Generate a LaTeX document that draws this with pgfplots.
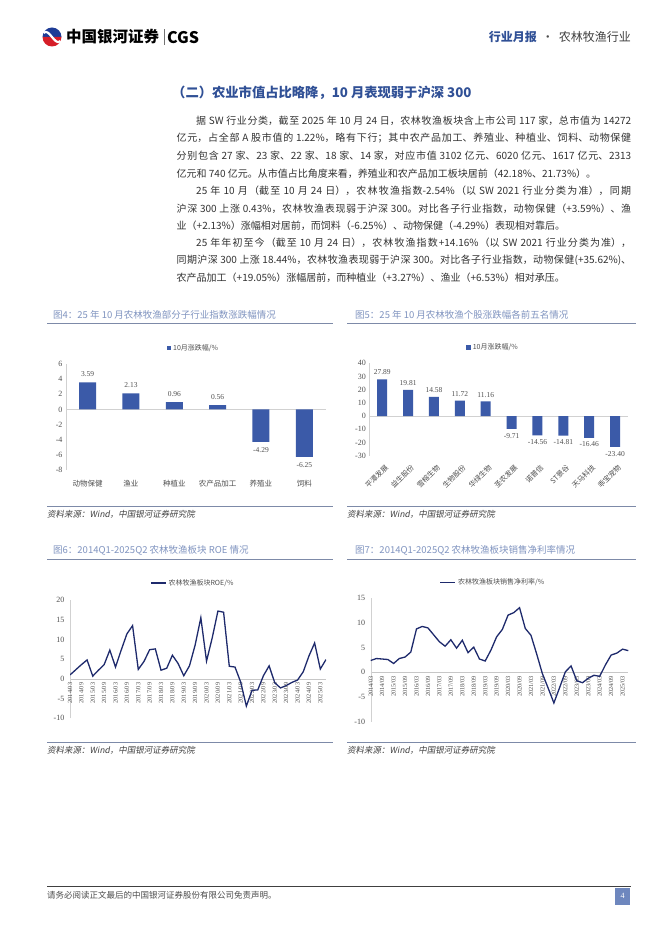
\documentclass[border=0pt]{standalone}
\usepackage{pgfplots}
\pgfplotsset{compat=1.18}
\usepackage{fontspec}
\setmainfont{Liberation Serif}
\newfontfamily\cjk{Noto Sans CJK SC}
\newfontfamily\cjkit{Noto Sans CJK SC}[FakeSlant=0.18]
\XeTeXlinebreaklocale "zh"
\XeTeXlinebreakskip=0pt plus 1.5pt
\definecolor{barblue}{RGB}{59,90,168}
\definecolor{navy}{RGB}{30,42,108}
\definecolor{titleblue}{RGB}{48,80,150}
\definecolor{figtitle}{RGB}{128,148,192}
\definecolor{rulegray}{RGB}{125,138,168}
\definecolor{txt}{RGB}{50,50,50}
\definecolor{ticktxt}{RGB}{80,80,80}
\definecolor{logored}{RGB}{214,30,40}
\definecolor{logoblue}{RGB}{30,60,150}
\definecolor{pagebox}{RGB}{110,135,190}
\newcommand\bodyfont{\cjk\fontsize{10}{12}\selectfont\color{txt}}
\newcommand\jl[4]{\node[anchor=west,inner sep=0pt] at (#1,#2) {\parbox{#3}{\bodyfont\parfillskip=0pt\tolerance=10000\emergencystretch=0pt\noindent #4}};}
\newcommand\bl[3]{\node[anchor=west,inner sep=0pt] at (#1,#2) {\bodyfont #3};}
\pgfplotsset{
  pagechart/.style={
    scale only axis,
    tick style={draw=none},
    /pgf/number format/assume math mode=true,
    tick label style={font=\fontsize{8}{9}\selectfont, text=ticktxt},
    legend style={draw=none, fill=none, font=\cjk\fontsize{7}{8}\selectfont, text=ticktxt, inner sep=1pt},
  },
}
\begin{document}
\begin{tikzpicture}
\fill[white] (0,0) rectangle (662pt,-936pt);
\begin{scope}[x=1pt,y=-1pt]
% header
\fill[logoblue] (52,37) ++(-9.5,0) arc (180:360:9.5) -- cycle;
\fill[logored] (52,37) ++(-9.5,0) arc (180:0:9.5) -- cycle;
\draw[white, line width=2.2pt] (43.5,33) .. controls (49,27) and (55,47) .. (60.5,41);
\node[anchor=west, inner sep=0] at (66,37) {\cjk\bfseries\fontsize{15.5}{16}\selectfont 中国银河证券};
\draw[black!55, line width=1pt] (164,29.5) -- (164,45);
\node[anchor=west, inner sep=0] at (167,37.5) {\cjk\bfseries\fontsize{16}{16}\selectfont CGS};
\node[anchor=east, inner sep=0] at (631,37) {\cjk\fontsize{12}{12}\selectfont{\bfseries\color{titleblue}行业月报}\hspace{5pt}{\color{black!70}·}\hspace{5pt}{\color{black!75}农林牧渔行业}};
% section title
\node[anchor=west, inner sep=0] at (172,92.5) {\cjk\bfseries\fontsize{13.3}{14}\selectfont\color{titleblue}（二）农业市值占比略降，10 月表现弱于沪深 300};
% body
\jl{196}{121}{435pt}{据 SW 行业分类，截至 2025 年 10 月 24 日，农林牧渔板块含上市公司 117 家，总市值为 14272}
\jl{176.5}{138.5}{454.5pt}{亿元，占全部 A 股市值的 1.22\%，略有下行；其中农产品加工、养殖业、种植业、饲料、动物保健}
\jl{176.5}{156}{454.5pt}{分别包含 27 家、23 家、22 家、18 家、14 家，对应市值 3102 亿元、6020 亿元、1617 亿元、2313}
\bl{176.5}{173.4}{亿元和 740 亿元。从市值占比角度来看，养殖业和农产品加工板块居前（42.18\%、21.73\%）。}
\jl{196}{190.8}{435pt}{25 年 10 月（截至 10 月 24 日），农林牧渔指数-2.54\%（以 SW 2021 行业分类为准），同期}
\jl{176.5}{208.3}{454.5pt}{沪深 300 上涨 0.43\%，农林牧渔表现弱于沪深 300。对比各子行业指数，动物保健（+3.59\%）、渔}
\bl{176.5}{225.6}{业（+2.13\%）涨幅相对居前，而饲料（-6.25\%）、动物保健（-4.29\%）表现相对靠后。}
\jl{196}{243.2}{435pt}{25 年年初至今（截至 10 月 24 日），农林牧渔指数+14.16\%（以 SW 2021 行业分类为准），}
\jl{176.5}{260.4}{454.5pt}{同期沪深 300 上涨 18.44\%，农林牧渔表现弱于沪深 300。对比各子行业指数，动物保健(+35.62\%)、}
\bl{176.5}{277.8}{农产品加工（+19.05\%）涨幅居前，而种植业（+3.27\%）、渔业（+6.53\%）相对承压。}
% figure frames
\node[anchor=west, inner sep=0] at (53,314.5) {\cjk\fontsize{9.5}{10}\selectfont\color{figtitle}图4：25 年 10 月农林牧渔部分子行业指数涨跌幅情况};
\node[anchor=west, inner sep=0] at (355,314.5) {\cjk\fontsize{9.5}{10}\selectfont\color{figtitle}图5：25 年 10 月农林牧渔个股涨跌幅各前五名情况};
\node[anchor=west, inner sep=0] at (53,550) {\cjk\fontsize{9.5}{10}\selectfont\color{figtitle}图6：2014Q1-2025Q2 农林牧渔板块 ROE 情况};
\node[anchor=west, inner sep=0] at (355,550) {\cjk\fontsize{9.5}{10}\selectfont\color{figtitle}图7：2014Q1-2025Q2 农林牧渔板块销售净利率情况};
\draw[rulegray, line width=0.9pt] (47,323.3) -- (333,323.3);
\draw[rulegray, line width=0.9pt] (347,323.3) -- (636,323.3);
\draw[rulegray, line width=0.9pt] (47,506.7) -- (333,506.7);
\draw[rulegray, line width=0.9pt] (347,506.7) -- (636,506.7);
\draw[rulegray, line width=0.9pt] (47,559) -- (333,559);
\draw[rulegray, line width=0.9pt] (347,559) -- (636,559);
\draw[rulegray, line width=0.9pt] (47,742) -- (333,742);
\draw[rulegray, line width=0.9pt] (347,742) -- (636,742);
\node[anchor=west, inner sep=0] at (47,514) {\cjkit\fontsize{8.5}{9}\selectfont\color{black!75}资料来源：Wind，中国银河证券研究院};
\node[anchor=west, inner sep=0] at (347,514) {\cjkit\fontsize{8.5}{9}\selectfont\color{black!75}资料来源：Wind，中国银河证券研究院};
\node[anchor=west, inner sep=0] at (47,750) {\cjkit\fontsize{8.5}{9}\selectfont\color{black!75}资料来源：Wind，中国银河证券研究院};
\node[anchor=west, inner sep=0] at (347,750) {\cjkit\fontsize{8.5}{9}\selectfont\color{black!75}资料来源：Wind，中国银河证券研究院};
% footer
\draw[black!75, line width=0.9pt] (47,886.5) -- (631,886.5);
\node[anchor=west, inner sep=0] at (47,895.5) {\cjk\fontsize{8.5}{9}\selectfont\color{black!70}请务必阅读正文最后的中国银河证券股份有限公司免责声明。};
\fill[pagebox] (615,887.5) rectangle (630,905);
\node[inner sep=0] at (622.5,896) {\fontsize{8}{9}\selectfont\color{white}4};
\end{scope}

% Fig 4
\begin{axis}[pagechart,
  at={(66pt,-470pt)}, anchor=south west, width=260pt, height=106pt,
  ybar, bar width=17pt,
  xmin=-0.5, xmax=5.5, ymin=-8, ymax=6, ytick={-8,-6,...,6},
  xtick={0,...,5}, xticklabels={动物保健,渔业,种植业,农产品加工,养殖业,饲料},
  x tick label style={font=\cjk\fontsize{7.5}{8}\selectfont, yshift=-2pt},
  axis lines*=left, axis line style={-}, x axis line style={draw=none}, y axis line style={draw=black!18},
  extra y ticks={0}, extra y tick labels={}, extra y tick style={grid=major, major grid style={draw=black!18}},
  nodes near coords, nodes near coords align={vertical},
  every node near coord/.append style={font=\fontsize{7.5}{8}\selectfont, text=ticktxt, inner ysep=5.5pt, /pgf/number format/fixed, /pgf/number format/fixed zerofill, /pgf/number format/precision=2},
  legend style={at={(0.49,1)}, anchor=center, yshift=16pt},
  legend image code/.code={\fill[barblue] (0pt,-2.3pt) rectangle (4.6pt,2.3pt);},
]
\addplot[fill=barblue, draw=none] coordinates {(0,3.59) (1,2.13) (2,0.96) (3,0.56) (4,-4.29) (5,-6.25)};
\addlegendentry{10月涨跌幅/\%}
\end{axis}

% Fig 5
\begin{axis}[pagechart,
  at={(369.3pt,-455.7pt)}, anchor=south west, width=258.7pt, height=92.4pt,
  ybar, bar width=10pt,
  xmin=-0.5, xmax=9.5, ymin=-30, ymax=40, ytick={-30,-20,...,40},
  xtick={0,...,9}, xticklabels={平潭发展,益生股份,雪榕生物,生物股份,华绿生物,圣农发展,诺普信,ST景谷,天马科技,乖宝宠物},
  x tick label style={font=\cjk\fontsize{7.2}{8}\selectfont, rotate=45, anchor=north east, inner sep=1pt, yshift=-3pt},
  axis lines*=left, axis line style={-}, x axis line style={draw=none}, y axis line style={draw=black!18},
  extra y ticks={0}, extra y tick labels={}, extra y tick style={grid=major, major grid style={draw=black!18}},
  nodes near coords, nodes near coords align={vertical},
  every node near coord/.append style={font=\fontsize{7.5}{8}\selectfont, text=ticktxt, inner ysep=4pt, /pgf/number format/fixed, /pgf/number format/fixed zerofill, /pgf/number format/precision=2},
  legend style={at={(0.478,1)}, anchor=center, yshift=15.6pt},
  legend image code/.code={\fill[barblue] (0pt,-2.3pt) rectangle (4.6pt,2.3pt);},
]
\addplot[fill=barblue, draw=none] coordinates {(0,27.89) (1,19.81) (2,14.58) (3,11.72) (4,11.16) (5,-9.71) (6,-14.56) (7,-14.81) (8,-16.46) (9,-23.40)};
\addlegendentry{10月涨跌幅/\%}
\end{axis}

% Fig 6
\begin{axis}[pagechart,
  at={(70pt,-718.3pt)}, anchor=south west, width=256pt, height=118.3pt,
  xmin=0, xmax=45, ymin=-10, ymax=20, ytick={-10,-5,...,20},
  axis x line=middle, axis y line=left, axis line style={-},
  x axis line style={draw=black!22}, y axis line style={draw=black!18},
  hide obscured x ticks=false, hide obscured y ticks=false,
  xtick={0,2,...,44},
  xticklabels={2014/03,2014/09,2015/03,2015/09,2016/03,2016/09,2017/03,2017/09,2018/03,2018/09,2019/03,2019/09,2020/03,2020/09,2021/03,2021/09,2022/03,2022/09,2023/03,2023/09,2024/03,2024/09,2025/03},
  x tick label style={rotate=90, anchor=east, font=\fontsize{6.3}{7}\selectfont, inner sep=1.5pt},
  legend style={at={(0.48,1)}, anchor=center, yshift=17pt},
  legend image code/.code={\draw[navy, line width=1.2pt] (0pt,0pt) -- (15pt,0pt);},
]
\addplot[navy, line width=1.3pt, mark=none] coordinates {
(0,1.0) (1,2.3) (2,3.6) (3,4.8) (4,0.7) (5,2.2) (6,3.6) (7,7.3) (8,3.0) (9,7.3)
(10,11.4) (11,13.5) (12,2.4) (13,4.4) (14,7.4) (15,7.6) (16,2.2) (17,2.7) (18,6.0) (19,3.9)
(20,0.8) (21,3.3) (22,8.6) (23,15.5) (24,4.5) (25,10.4) (26,17.2) (27,16.9) (28,3.2) (29,3.0)
(30,-0.8) (31,-6.9) (32,-2.9) (33,-2.8) (34,0.8) (35,3.3) (36,-1.0) (37,-2.3) (38,-1.7) (39,-0.9)
(40,-0.3) (41,1.8) (42,5.8) (43,9.1) (44,2.5) (45,4.9)};
\addlegendentry{农林牧渔板块ROE/\%}
\end{axis}

% Fig 7
\begin{axis}[pagechart,
  at={(370.7pt,-721.7pt)}, anchor=south west, width=257.6pt, height=123.4pt,
  xmin=0, xmax=45, ymin=-10, ymax=15, ytick={-10,-5,...,15},
  axis x line=middle, axis y line=left, axis line style={-},
  x axis line style={draw=black!22}, y axis line style={draw=black!18},
  hide obscured x ticks=false, hide obscured y ticks=false,
  xtick={0,2,...,44},
  xticklabels={2014/03,2014/09,2015/03,2015/09,2016/03,2016/09,2017/03,2017/09,2018/03,2018/09,2019/03,2019/09,2020/03,2020/09,2021/03,2021/09,2022/03,2022/09,2023/03,2023/09,2024/03,2024/09,2025/03},
  x tick label style={rotate=90, anchor=east, font=\fontsize{6.3}{7}\selectfont, inner sep=1.5pt},
  legend style={at={(0.475,1)}, anchor=center, yshift=15.6pt},
  legend image code/.code={\draw[navy, line width=1.2pt] (0pt,0pt) -- (15pt,0pt);},
]
\addplot[navy, line width=1.3pt, mark=none] coordinates {
(0,2.4) (1,2.8) (2,2.7) (3,2.6) (4,1.8) (5,2.8) (6,3.1) (7,4.1) (8,8.8) (9,9.3)
(10,9.0) (11,7.6) (12,6.2) (13,5.3) (14,6.6) (15,4.9) (16,6.5) (17,4.0) (18,5.1) (19,2.7)
(20,2.3) (21,4.5) (22,7.2) (23,8.7) (24,11.6) (25,12.1) (26,13.1) (27,8.9) (28,7.5) (29,3.7)
(30,-0.3) (31,-3.2) (32,-6.2) (33,-3.1) (34,0.1) (35,1.3) (36,-1.7) (37,-2.1) (38,-1.2) (39,-0.6)
(40,-0.8) (41,1.5) (42,3.5) (43,3.9) (44,4.7) (45,4.4)};
\addlegendentry{农林牧渔板块销售净利率/\%}
\end{axis}
\end{tikzpicture}
\end{document}
